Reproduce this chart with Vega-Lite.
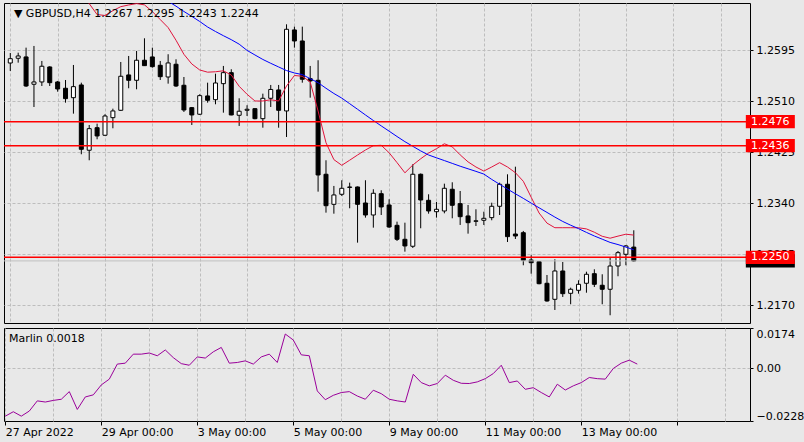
{
  "$schema": "https://vega.github.io/schema/vega-lite/v6.json",
  "background": "#e8e8e8",
  "padding": {"left": 2, "top": 2, "right": 6, "bottom": 6},
  "spacing": 3,
  "config": {
    "font": "DejaVu Sans",
    "view": {"stroke": "#000000", "strokeWidth": 1, "fill": "#e8e8e8"},
    "axis": {
      "labelFont": "DejaVu Sans",
      "labelFontSize": 11,
      "labelColor": "#000000",
      "gridColor": "#bdbdbd",
      "gridDash": [3, 2],
      "gridWidth": 1,
      "tickColor": "#000000",
      "domain": false,
      "title": null,
      "labelOverlap": false
    }
  },
  "datasets": {
    "k": [
      {"i": 0, "o": 1.25738, "h": 1.25905, "l": 1.25605, "c": 1.25810, "m": -0.0207},
      {"i": 1, "o": 1.25817, "h": 1.25910, "l": 1.25744, "c": 1.25855, "m": -0.0188},
      {"i": 2, "o": 1.25839, "h": 1.25994, "l": 1.25339, "c": 1.25355, "m": -0.0207},
      {"i": 3, "o": 1.25384, "h": 1.26022, "l": 1.25005, "c": 1.25422, "m": -0.0185},
      {"i": 4, "o": 1.25422, "h": 1.25772, "l": 1.25355, "c": 1.25684, "m": -0.0141},
      {"i": 5, "o": 1.25672, "h": 1.25684, "l": 1.25355, "c": 1.25410, "m": -0.0146},
      {"i": 6, "o": 1.25422, "h": 1.25439, "l": 1.25260, "c": 1.25305, "m": -0.0139},
      {"i": 7, "o": 1.25317, "h": 1.25455, "l": 1.25077, "c": 1.25144, "m": -0.0134},
      {"i": 8, "o": 1.25160, "h": 1.25705, "l": 1.24894, "c": 1.25344, "m": -0.0101},
      {"i": 9, "o": 1.25372, "h": 1.25410, "l": 1.24217, "c": 1.24300, "m": -0.0178, "f": 1.26938},
      {"i": 10, "o": 1.24284, "h": 1.24705, "l": 1.24117, "c": 1.24644, "m": -0.0124, "f": 1.26728},
      {"i": 11, "o": 1.24660, "h": 1.24727, "l": 1.24467, "c": 1.24522, "m": -0.0115, "f": 1.26545},
      {"i": 12, "o": 1.24534, "h": 1.24884, "l": 1.24522, "c": 1.24855, "m": -0.0072, "f": 1.26530},
      {"i": 13, "o": 1.24827, "h": 1.24977, "l": 1.24650, "c": 1.24939, "m": -0.0047, "f": 1.26610},
      {"i": 14, "o": 1.24950, "h": 1.25755, "l": 1.24939, "c": 1.25517, "m": 0.0018, "f": 1.26677},
      {"i": 15, "o": 1.25539, "h": 1.25855, "l": 1.25317, "c": 1.25450, "m": 0.0022, "f": 1.26705},
      {"i": 16, "o": 1.25450, "h": 1.25939, "l": 1.25300, "c": 1.25784, "m": 0.0061, "f": 1.26728},
      {"i": 17, "o": 1.25784, "h": 1.26150, "l": 1.25689, "c": 1.25694, "m": 0.0061, "f": 1.26707},
      {"i": 18, "o": 1.25839, "h": 1.25994, "l": 1.25660, "c": 1.25677, "m": 0.0066, "f": 1.26595, "s": 1.26938},
      {"i": 19, "o": 1.25700, "h": 1.25772, "l": 1.25455, "c": 1.25510, "m": 0.0054, "f": 1.26462, "s": 1.26848},
      {"i": 20, "o": 1.25505, "h": 1.25884, "l": 1.25394, "c": 1.25739, "m": 0.0079, "f": 1.26328, "s": 1.26767},
      {"i": 21, "o": 1.25717, "h": 1.25800, "l": 1.25339, "c": 1.25355, "m": 0.0046, "f": 1.26117, "s": 1.26685},
      {"i": 22, "o": 1.25367, "h": 1.25505, "l": 1.24922, "c": 1.24955, "m": 0.0020, "f": 1.25883, "s": 1.26597},
      {"i": 23, "o": 1.24994, "h": 1.25005, "l": 1.24705, "c": 1.24872, "m": 0.0013, "f": 1.25722, "s": 1.26515},
      {"i": 24, "o": 1.24884, "h": 1.25217, "l": 1.24872, "c": 1.25194, "m": 0.0049, "f": 1.25622, "s": 1.26430},
      {"i": 25, "o": 1.25189, "h": 1.25410, "l": 1.25077, "c": 1.25117, "m": 0.0044, "f": 1.25585, "s": 1.26338},
      {"i": 26, "o": 1.25127, "h": 1.25560, "l": 1.25050, "c": 1.25405, "m": 0.0071, "f": 1.25592, "s": 1.26263},
      {"i": 27, "o": 1.25394, "h": 1.25689, "l": 1.24910, "c": 1.25577, "m": 0.0090, "f": 1.25608, "s": 1.26193},
      {"i": 28, "o": 1.25577, "h": 1.25634, "l": 1.24867, "c": 1.24872, "m": 0.0022, "f": 1.25538, "s": 1.26127},
      {"i": 29, "o": 1.24867, "h": 1.25150, "l": 1.24689, "c": 1.24934, "m": 0.0025, "f": 1.25350, "s": 1.26052},
      {"i": 30, "o": 1.24950, "h": 1.25034, "l": 1.24855, "c": 1.24967, "m": 0.0032, "f": 1.25217, "s": 1.25948},
      {"i": 31, "o": 1.24977, "h": 1.24984, "l": 1.24800, "c": 1.24810, "m": 0.0018, "f": 1.25105, "s": 1.25872},
      {"i": 32, "o": 1.24810, "h": 1.25227, "l": 1.24660, "c": 1.25150, "m": 0.0049, "f": 1.25105, "s": 1.25797},
      {"i": 33, "o": 1.25150, "h": 1.25372, "l": 1.25005, "c": 1.25297, "m": 0.0061, "f": 1.25125, "s": 1.25733},
      {"i": 34, "o": 1.25289, "h": 1.25372, "l": 1.24660, "c": 1.24950, "m": 0.0025, "f": 1.25105, "s": 1.25672},
      {"i": 35, "o": 1.24939, "h": 1.26383, "l": 1.24505, "c": 1.26300, "m": 0.0148, "f": 1.25355, "s": 1.25612},
      {"i": 36, "o": 1.26289, "h": 1.26344, "l": 1.25994, "c": 1.26105, "m": 0.0122, "f": 1.25530, "s": 1.25572},
      {"i": 37, "o": 1.26105, "h": 1.26344, "l": 1.25410, "c": 1.25467, "m": 0.0058, "f": 1.25517, "s": 1.25545},
      {"i": 38, "o": 1.25477, "h": 1.25689, "l": 1.25160, "c": 1.25439, "m": 0.0054, "f": 1.25422, "s": 1.25477},
      {"i": 39, "o": 1.25450, "h": 1.25784, "l": 1.23594, "c": 1.23872, "m": -0.0098, "f": 1.24938, "s": 1.25410},
      {"i": 40, "o": 1.23884, "h": 1.24117, "l": 1.23244, "c": 1.23360, "m": -0.0136, "f": 1.24410, "s": 1.25317},
      {"i": 41, "o": 1.23383, "h": 1.23689, "l": 1.23227, "c": 1.23539, "m": -0.0117, "f": 1.24128, "s": 1.25230},
      {"i": 42, "o": 1.23550, "h": 1.23784, "l": 1.23522, "c": 1.23650, "m": -0.0105, "f": 1.24033, "s": 1.25153},
      {"i": 43, "o": 1.23664, "h": 1.23744, "l": 1.23317, "c": 1.23672, "m": -0.0101, "f": 1.24118, "s": 1.25060},
      {"i": 44, "o": 1.23672, "h": 1.23680, "l": 1.22744, "c": 1.23383, "m": -0.0120, "f": 1.24205, "s": 1.24967},
      {"i": 45, "o": 1.23405, "h": 1.23784, "l": 1.23161, "c": 1.23205, "m": -0.0134, "f": 1.24288, "s": 1.24872},
      {"i": 46, "o": 1.23205, "h": 1.23634, "l": 1.22994, "c": 1.23567, "m": -0.0095, "f": 1.24360, "s": 1.24780},
      {"i": 47, "o": 1.23560, "h": 1.23617, "l": 1.23205, "c": 1.23339, "m": -0.0110, "f": 1.24367, "s": 1.24690},
      {"i": 48, "o": 1.23372, "h": 1.23467, "l": 1.22989, "c": 1.23005, "m": -0.0134, "f": 1.24242, "s": 1.24602},
      {"i": 49, "o": 1.23033, "h": 1.23094, "l": 1.22772, "c": 1.22800, "m": -0.0141, "f": 1.24078, "s": 1.24513},
      {"i": 50, "o": 1.22800, "h": 1.23077, "l": 1.22594, "c": 1.22689, "m": -0.0146, "f": 1.23908, "s": 1.24427},
      {"i": 51, "o": 1.22684, "h": 1.24050, "l": 1.22655, "c": 1.23884, "m": -0.0026, "f": 1.24038, "s": 1.24350},
      {"i": 52, "o": 1.23884, "h": 1.23897, "l": 1.22984, "c": 1.23455, "m": -0.0062, "f": 1.24142, "s": 1.24273},
      {"i": 53, "o": 1.23450, "h": 1.23550, "l": 1.23227, "c": 1.23272, "m": -0.0076, "f": 1.24237, "s": 1.24205},
      {"i": 54, "o": 1.23260, "h": 1.23422, "l": 1.23161, "c": 1.23300, "m": -0.0066, "f": 1.24310, "s": 1.24158},
      {"i": 55, "o": 1.23272, "h": 1.23727, "l": 1.23233, "c": 1.23650, "m": -0.0030, "f": 1.24392, "s": 1.24112},
      {"i": 56, "o": 1.23634, "h": 1.23750, "l": 1.23150, "c": 1.23367, "m": -0.0052, "f": 1.24340, "s": 1.24065},
      {"i": 57, "o": 1.23394, "h": 1.23605, "l": 1.23039, "c": 1.23177, "m": -0.0065, "f": 1.24207, "s": 1.24018},
      {"i": 58, "o": 1.23189, "h": 1.23372, "l": 1.22894, "c": 1.23077, "m": -0.0066, "f": 1.24090, "s": 1.23975},
      {"i": 59, "o": 1.23100, "h": 1.23300, "l": 1.23022, "c": 1.23108, "m": -0.0059, "f": 1.24005, "s": 1.23932},
      {"i": 60, "o": 1.23117, "h": 1.23260, "l": 1.23039, "c": 1.23150, "m": -0.0045, "f": 1.23937, "s": 1.23887},
      {"i": 61, "o": 1.23161, "h": 1.23410, "l": 1.23117, "c": 1.23350, "m": -0.0023, "f": 1.24005, "s": 1.23798},
      {"i": 62, "o": 1.23350, "h": 1.23744, "l": 1.23205, "c": 1.23717, "m": 0.0013, "f": 1.24077, "s": 1.23717},
      {"i": 63, "o": 1.23717, "h": 1.23883, "l": 1.22755, "c": 1.22844, "m": -0.0062, "f": 1.24005, "s": 1.23637},
      {"i": 64, "o": 1.22888, "h": 1.24010, "l": 1.22805, "c": 1.22855, "m": -0.0055, "f": 1.23910, "s": 1.23558},
      {"i": 65, "o": 1.22910, "h": 1.22939, "l": 1.22367, "c": 1.22450, "m": -0.0091, "f": 1.23767, "s": 1.23482},
      {"i": 66, "o": 1.22455, "h": 1.22534, "l": 1.22227, "c": 1.22410, "m": -0.0084, "f": 1.23500, "s": 1.23403},
      {"i": 67, "o": 1.22427, "h": 1.22439, "l": 1.22050, "c": 1.22060, "m": -0.0105, "f": 1.23238, "s": 1.23325},
      {"i": 68, "o": 1.22067, "h": 1.22205, "l": 1.21760, "c": 1.21772, "m": -0.0124, "f": 1.23070, "s": 1.23248},
      {"i": 69, "o": 1.21800, "h": 1.22467, "l": 1.21622, "c": 1.22272, "m": -0.0069, "f": 1.22993, "s": 1.23170},
      {"i": 70, "o": 1.22272, "h": 1.22422, "l": 1.21839, "c": 1.21894, "m": -0.0094, "f": 1.22993, "s": 1.23097},
      {"i": 71, "o": 1.21900, "h": 1.21994, "l": 1.21717, "c": 1.21967, "m": -0.0076, "f": 1.22993, "s": 1.23035},
      {"i": 72, "o": 1.21950, "h": 1.22117, "l": 1.21894, "c": 1.22050, "m": -0.0062, "f": 1.22992, "s": 1.22978},
      {"i": 73, "o": 1.22067, "h": 1.22260, "l": 1.21910, "c": 1.22217, "m": -0.0040, "f": 1.22973, "s": 1.22915},
      {"i": 74, "o": 1.22227, "h": 1.22300, "l": 1.22005, "c": 1.22050, "m": -0.0045, "f": 1.22918, "s": 1.22855},
      {"i": 75, "o": 1.22034, "h": 1.22217, "l": 1.21717, "c": 1.21967, "m": -0.0047, "f": 1.22850, "s": 1.22802},
      {"i": 76, "o": 1.21967, "h": 1.22494, "l": 1.21534, "c": 1.22355, "m": -0.0001, "f": 1.22818, "s": 1.22748},
      {"i": 77, "o": 1.22355, "h": 1.22605, "l": 1.22184, "c": 1.22577, "m": 0.0022, "f": 1.22853, "s": 1.22712},
      {"i": 78, "o": 1.22550, "h": 1.22705, "l": 1.22367, "c": 1.22689, "m": 0.0035, "f": 1.22885, "s": 1.22670},
      {"i": 79, "o": 1.2267, "h": 1.2295, "l": 1.2243, "c": 1.2244, "m": 0.0018, "f": 1.22870, "s": 1.22625}
    ],
    "lv": [
      {"p": 1.2476, "t": "1.2476"},
      {"p": 1.2436, "t": "1.2436"},
      {"p": 1.2250, "t": "1.2250"}
    ],
    "bid": [
      {"p": 1.2244}
    ]
  },
  "vconcat": [
    {
      "width": 746,
      "height": 320,
      "layer": [
        {
          "data": {"name": "k"},
          "mark": {"type": "rule", "color": "#000000", "strokeWidth": 1},
          "encoding": {
            "x": {
              "field": "i",
              "type": "quantitative",
              "scale": {"domain": [-0.1625, 93.09], "nice": false, "zero": false},
              "axis": {
                "values": [0, 6, 12, 18, 24, 30, 36, 42, 48, 54, 60, 66, 72, 78, 84, 90],
                "labels": false,
                "ticks": false,
                "grid": true
              }
            },
            "y": {
              "field": "l",
              "type": "quantitative",
              "scale": {"domain": [1.21405, 1.26738], "nice": false, "zero": false},
              "axis": {
                "orient": "right",
                "values": [1.217, 1.2255, 1.234, 1.2425, 1.251, 1.2595],
                "format": ".4f",
                "tickSize": 3,
                "labelPadding": 3,
                "grid": true
              }
            },
            "y2": {"field": "h"}
          }
        },
        {
          "data": {"name": "k"},
          "mark": {"type": "bar", "width": 4, "stroke": "#000000", "strokeWidth": 1},
          "encoding": {
            "x": {"field": "i", "type": "quantitative"},
            "y": {"field": "o", "type": "quantitative"},
            "y2": {"field": "c"},
            "fill": {
              "condition": {"test": "datum.c > datum.o", "value": "#ffffff"},
              "value": "#000000"
            }
          }
        },
        {
          "data": {"name": "k"},
          "mark": {"type": "line", "color": "#e0143c", "strokeWidth": 1, "clip": true},
          "encoding": {
            "x": {"field": "i", "type": "quantitative"},
            "y": {"field": "f", "type": "quantitative"}
          }
        },
        {
          "data": {"name": "k"},
          "mark": {"type": "line", "color": "#0000ff", "strokeWidth": 1, "clip": true},
          "encoding": {
            "x": {"field": "i", "type": "quantitative"},
            "y": {"field": "s", "type": "quantitative"}
          }
        },
        {
          "data": {"name": "bid"},
          "mark": {"type": "rule", "color": "#c0c0c0", "strokeWidth": 1},
          "encoding": {
            "y": {"field": "p", "type": "quantitative"}
          }
        },
        {
          "data": {"name": "lv"},
          "mark": {"type": "rule", "color": "#ff0000", "strokeWidth": 1.5},
          "encoding": {
            "y": {"field": "p", "type": "quantitative"}
          }
        },
        {
          "data": {"values": [{"t": "▼ GBPUSD,H4  1.2267 1.2295 1.2243 1.2244"}]},
          "mark": {"type": "text", "align": "left", "baseline": "middle", "fontSize": 11, "color": "#000000", "font": "DejaVu Sans"},
          "encoding": {
            "x": {"datum": 0.46},
            "y": {"datum": 1.26555},
            "text": {"field": "t"}
          }
        },
        {
          "data": {"name": "bid"},
          "mark": {"type": "point", "shape": "M-1,-0.27H1V0.27H-1Z", "size": 2401, "filled": true, "fill": "#000000", "strokeWidth": 0, "opacity": 1},
          "encoding": {
            "x": {"datum": 96.3},
            "y": {"field": "p", "type": "quantitative"}
          }
        },
        {
          "data": {"name": "lv"},
          "mark": {"type": "point", "shape": "M-1,-0.27H1V0.27H-1Z", "size": 2401, "filled": true, "fill": "#ff0000", "strokeWidth": 0, "opacity": 1},
          "encoding": {
            "x": {"datum": 96.3},
            "y": {"field": "p", "type": "quantitative"}
          }
        },
        {
          "data": {"name": "lv"},
          "mark": {"type": "text", "align": "left", "baseline": "middle", "fontSize": 11, "color": "#ffffff", "font": "DejaVu Sans"},
          "encoding": {
            "x": {"datum": 93.84},
            "y": {"field": "p", "type": "quantitative"},
            "text": {"field": "t"}
          }
        }
      ]
    },
    {
      "width": 746,
      "height": 93,
      "layer": [
        {
          "data": {"name": "k"},
          "mark": {"type": "line", "color": "#9a009a", "strokeWidth": 1},
          "encoding": {
            "x": {
              "field": "i",
              "type": "quantitative",
              "scale": {"domain": [-0.1625, 93.09], "nice": false, "zero": false},
              "axis": {
                "values": [0, 6, 12, 18, 24, 30, 36, 42, 48, 54, 60, 66, 72, 78, 84, 90],
                "labelExpr": "datum.value === 0 ? '27 Apr 2022' : datum.value === 12 ? '29 Apr 00:00' : datum.value === 24 ? '3 May 00:00' : datum.value === 36 ? '5 May 00:00' : datum.value === 48 ? '9 May 00:00' : datum.value === 60 ? '11 May 00:00' : datum.value === 72 ? '13 May 00:00' : ''",
                "labelAlign": "left",
                "labelFlush": false,
                "tickSize": 4,
                "labelPadding": 1,
                "tickColor": {"condition": {"test": "datum.value % 12 === 0", "value": "#000000"}, "value": "rgba(0,0,0,0)"},
                "grid": true
              }
            },
            "y": {
              "field": "m",
              "type": "quantitative",
              "scale": {"domain": [-0.0228, 0.0174], "nice": false, "zero": false},
              "axis": {
                "orient": "right",
                "values": [-0.0228, 0, 0.0174],
                "labelExpr": "datum.value === 0 ? '0.00' : format(datum.value, '.4f')",
                "labelFlush": true,
                "tickSize": 3,
                "labelPadding": 3,
                "grid": true,
                "gridOpacity": {"condition": {"test": "datum.value === 0", "value": 1}, "value": 0}
              }
            }
          }
        },
        {
          "data": {"values": [{"t": "Marlin 0.0018"}]},
          "mark": {"type": "text", "align": "left", "baseline": "middle", "fontSize": 11, "color": "#000000", "font": "DejaVu Sans"},
          "encoding": {
            "x": {"datum": 0.46},
            "y": {"datum": 0.01276},
            "text": {"field": "t"}
          }
        }
      ]
    }
  ]
}
